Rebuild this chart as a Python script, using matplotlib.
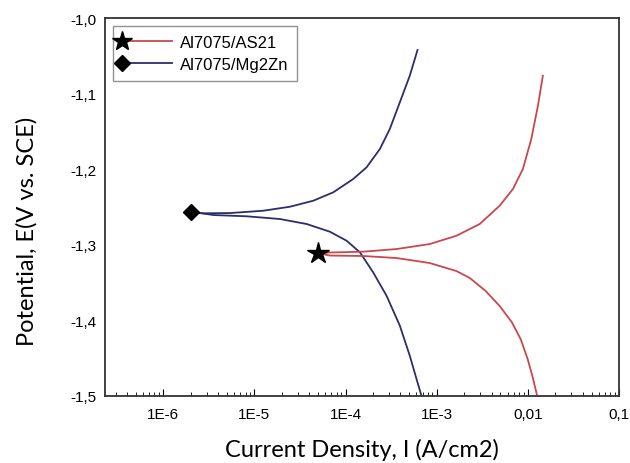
import matplotlib
matplotlib.use("Agg")
import matplotlib.pyplot as plt
from matplotlib.lines import Line2D
from matplotlib.legend_handler import HandlerLine2D
import numpy as np

# Al7075/Mg2Zn (blue): log10(I) and E for both branches
mg_anodic_logi = [-5.697, -5.576, -5.266, -4.901, -4.609, -4.354, -4.135, -3.916, -3.769, -3.623, -3.514, -3.404, -3.295, -3.210]
mg_anodic_e = [-1.2562, -1.2583, -1.2580, -1.2549, -1.2496, -1.2417, -1.2306, -1.2130, -1.1975, -1.1733, -1.1468, -1.1115, -1.0763, -1.0423]
mg_cath_logi = [-5.697, -5.449, -5.083, -4.719, -4.426, -4.171, -3.988, -3.842, -3.697, -3.550, -3.404, -3.295, -3.221, -3.167]
mg_cath_e = [-1.2562, -1.2606, -1.2623, -1.2659, -1.2725, -1.2827, -1.2946, -1.3099, -1.3364, -1.3673, -1.4070, -1.4467, -1.4775, -1.4996]

# Al7075/AS21 (red)
as_anodic_logi = [-4.302, -4.171, -3.806, -3.440, -3.076, -2.783, -2.528, -2.309, -2.163, -2.054, -1.962, -1.889, -1.835]
as_anodic_e = [-1.3110, -1.3102, -1.3091, -1.3056, -1.2990, -1.2880, -1.2725, -1.2483, -1.2262, -1.1997, -1.1601, -1.1160, -1.0763]
as_cath_logi = [-4.302, -4.171, -3.806, -3.440, -3.076, -2.783, -2.637, -2.462, -2.309, -2.177, -2.079, -2.002, -1.947, -1.898]
as_cath_e = [-1.3110, -1.3142, -1.3148, -1.3175, -1.3241, -1.3347, -1.3439, -1.3611, -1.3810, -1.4021, -1.4246, -1.4511, -1.4749, -1.4996]

mg_corr_logi, mg_corr_e = -5.697, -1.2562
as_corr_logi, as_corr_e = -4.302, -1.3110

xticks = [1e-6, 1e-5, 1e-4, 1e-3, 1e-2, 1e-1]
xticklabels = ["1E-6", "1E-5", "1E-4", "1E-3", "0,01", "0,1"]
yticks = [-1.0, -1.1, -1.2, -1.3, -1.4, -1.5]
yticklabels = ["-1,0", "-1,1", "-1,2", "-1,3", "-1,4", "-1,5"]

blue = "#2d2d6c"
red = "#c8484b"


class LeftMarker(HandlerLine2D):
    # put the marker on the left end of the legend line
    def create_artists(self, legend, orig_handle, xdescent, ydescent, width, height, fontsize, trans):
        arts = super().create_artists(legend, orig_handle, xdescent, ydescent, width, height, fontsize, trans)
        for a in arts:
            a.set_markevery([0])
        return arts


plt.rcParams["font.family"] = ["Liberation Sans", "DejaVu Sans"]

fig = plt.figure(figsize=(6.3, 4.64), dpi=100)
ax = fig.add_axes([0.1667, 0.1444, 0.8158, 0.8146])

ax.plot(10 ** np.array(mg_anodic_logi), mg_anodic_e, color=blue, lw=1.3)
ax.plot(10 ** np.array(mg_cath_logi), mg_cath_e, color=blue, lw=1.3)
ax.plot(10 ** np.array(as_anodic_logi), as_anodic_e, color=red, lw=1.3)
ax.plot(10 ** np.array(as_cath_logi), as_cath_e, color=red, lw=1.3)

ax.plot(10 ** mg_corr_logi, mg_corr_e, marker="D", color="black", ms=8, zorder=5)
ax.plot(10 ** as_corr_logi, as_corr_e, marker="*", color="black", ms=16, zorder=5)

ax.set_xscale("log")
ax.set_xlim(2.3e-7, 0.1)
ax.set_ylim(-1.5, -1.0)
ax.set_xticks(xticks)
ax.set_xticklabels(xticklabels)
ax.set_yticks(yticks)
ax.set_yticklabels(yticklabels)
ax.tick_params(axis="x", which="major", direction="in", length=5, labelsize=11, pad=8)
ax.tick_params(axis="x", which="minor", direction="in", length=3)
ax.tick_params(axis="y", length=0, labelsize=11, pad=6)

for s in ax.spines.values():
    s.set_color("#333333")
    s.set_linewidth(1.3)

ax.set_xlabel("Current Density, I (A/cm2)", fontsize=17, family=["Lato", "DejaVu Sans"], labelpad=12)
ax.set_ylabel("Potential, E(V vs. SCE)", fontsize=17, family=["Lato", "DejaVu Sans"])
ax.yaxis.set_label_coords(-0.132, 0.438)

handles = [
    Line2D([], [], color=red, lw=1.3, marker="*", ms=15, mfc="black", mec="black"),
    Line2D([], [], color=blue, lw=1.3, marker="D", ms=8, mfc="black", mec="black"),
]
leg = ax.legend(handles, ["Al7075/AS21", "Al7075/Mg2Zn"], loc="upper left", numpoints=1,
                handler_map={h: LeftMarker() for h in handles},
                handlelength=3.0, fontsize=12, fancybox=False, edgecolor="#777777",
                borderaxespad=0.5, borderpad=0.5, handletextpad=0.5, labelspacing=0.45)
leg.get_frame().set_linewidth(1.0)

fig.savefig("out.png", dpi=100)
